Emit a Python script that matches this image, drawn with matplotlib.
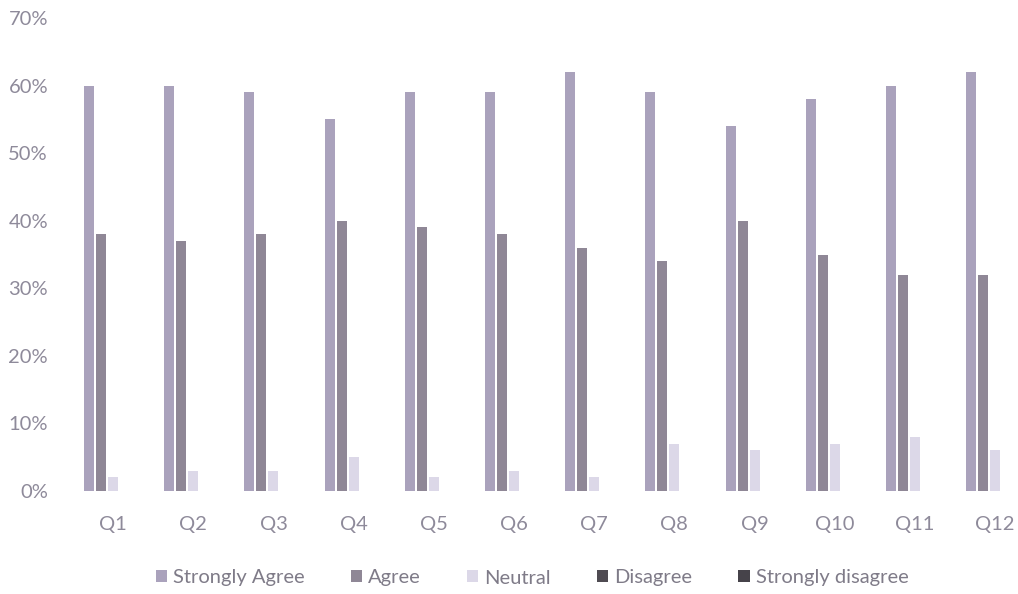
import matplotlib
matplotlib.use("Agg")
import matplotlib.pyplot as plt
import numpy as np
from matplotlib.ticker import PercentFormatter

questions = ["Q1", "Q2", "Q3", "Q4", "Q5", "Q6", "Q7", "Q8", "Q9", "Q10", "Q11", "Q12"]
series_names = ["Strongly Agree", "Agree", "Neutral", "Disagree", "Strongly disagree"]
strongly_agree = [60, 60, 59, 55, 59, 59, 62, 59, 54, 58, 60, 62]
agree = [38, 37, 38, 40, 39, 38, 36, 34, 40, 35, 32, 32]
neutral = [2, 3, 3, 5, 2, 3, 2, 7, 6, 7, 8, 6]
disagree = [0, 0, 0, 0, 0, 0, 0, 0, 0, 0, 0, 0]
strongly_disagree = [0, 0, 0, 0, 0, 0, 0, 0, 0, 0, 0, 0]

colors = ["#aaa2bc", "#8f8796", "#dcd8e8", "#4f4b52", "#46434a"]
text_color = "#8e8a9a"

plt.rcParams["font.family"] = ["Lato", "DejaVu Sans"]

fig = plt.figure(figsize=(10.18, 5.94), dpi=100)
W, H = 1018, 594
left_px, right_px, top_px, bottom_px = 73, 1018, 18, 491
ax = fig.add_axes([left_px / W, (H - bottom_px) / H,
                   (right_px - left_px) / W, (bottom_px - top_px) / H])

x = np.arange(len(questions))
pitch = 0.15
width = 0.125
all_series = [strongly_agree, agree, neutral, disagree, strongly_disagree]
for k, (name, vals, c) in enumerate(zip(series_names, all_series, colors)):
    offs = (k - 2) * pitch
    ax.bar(x + offs, np.array(vals) / 100.0, width=width, color=c, label=name)

ax.set_ylim(0, 0.70)
ax.set_yticks(np.arange(0, 0.71, 0.10))
ax.yaxis.set_major_formatter(PercentFormatter(1.0, decimals=0))
ax.set_xlim(-0.5, (right_px - 113) / 80.2)
ax.set_xticks(x)
ax.set_xticklabels(questions)

for s in ax.spines.values():
    s.set_visible(False)
ax.tick_params(axis="both", length=0, colors=text_color, labelsize=14.5)
ax.tick_params(axis="x", pad=18)
ax.tick_params(axis="y", pad=18)

leg = fig.legend(loc="center", bbox_to_anchor=(532 / W, (H - 578) / H), ncol=5,
                 frameon=False, fontsize=14.5, handlelength=0.55, handleheight=0.55,
                 handletextpad=0.3, columnspacing=2.3)
for t in leg.get_texts():
    t.set_color("#7f7b88")

fig.savefig("out.png", dpi=100)
